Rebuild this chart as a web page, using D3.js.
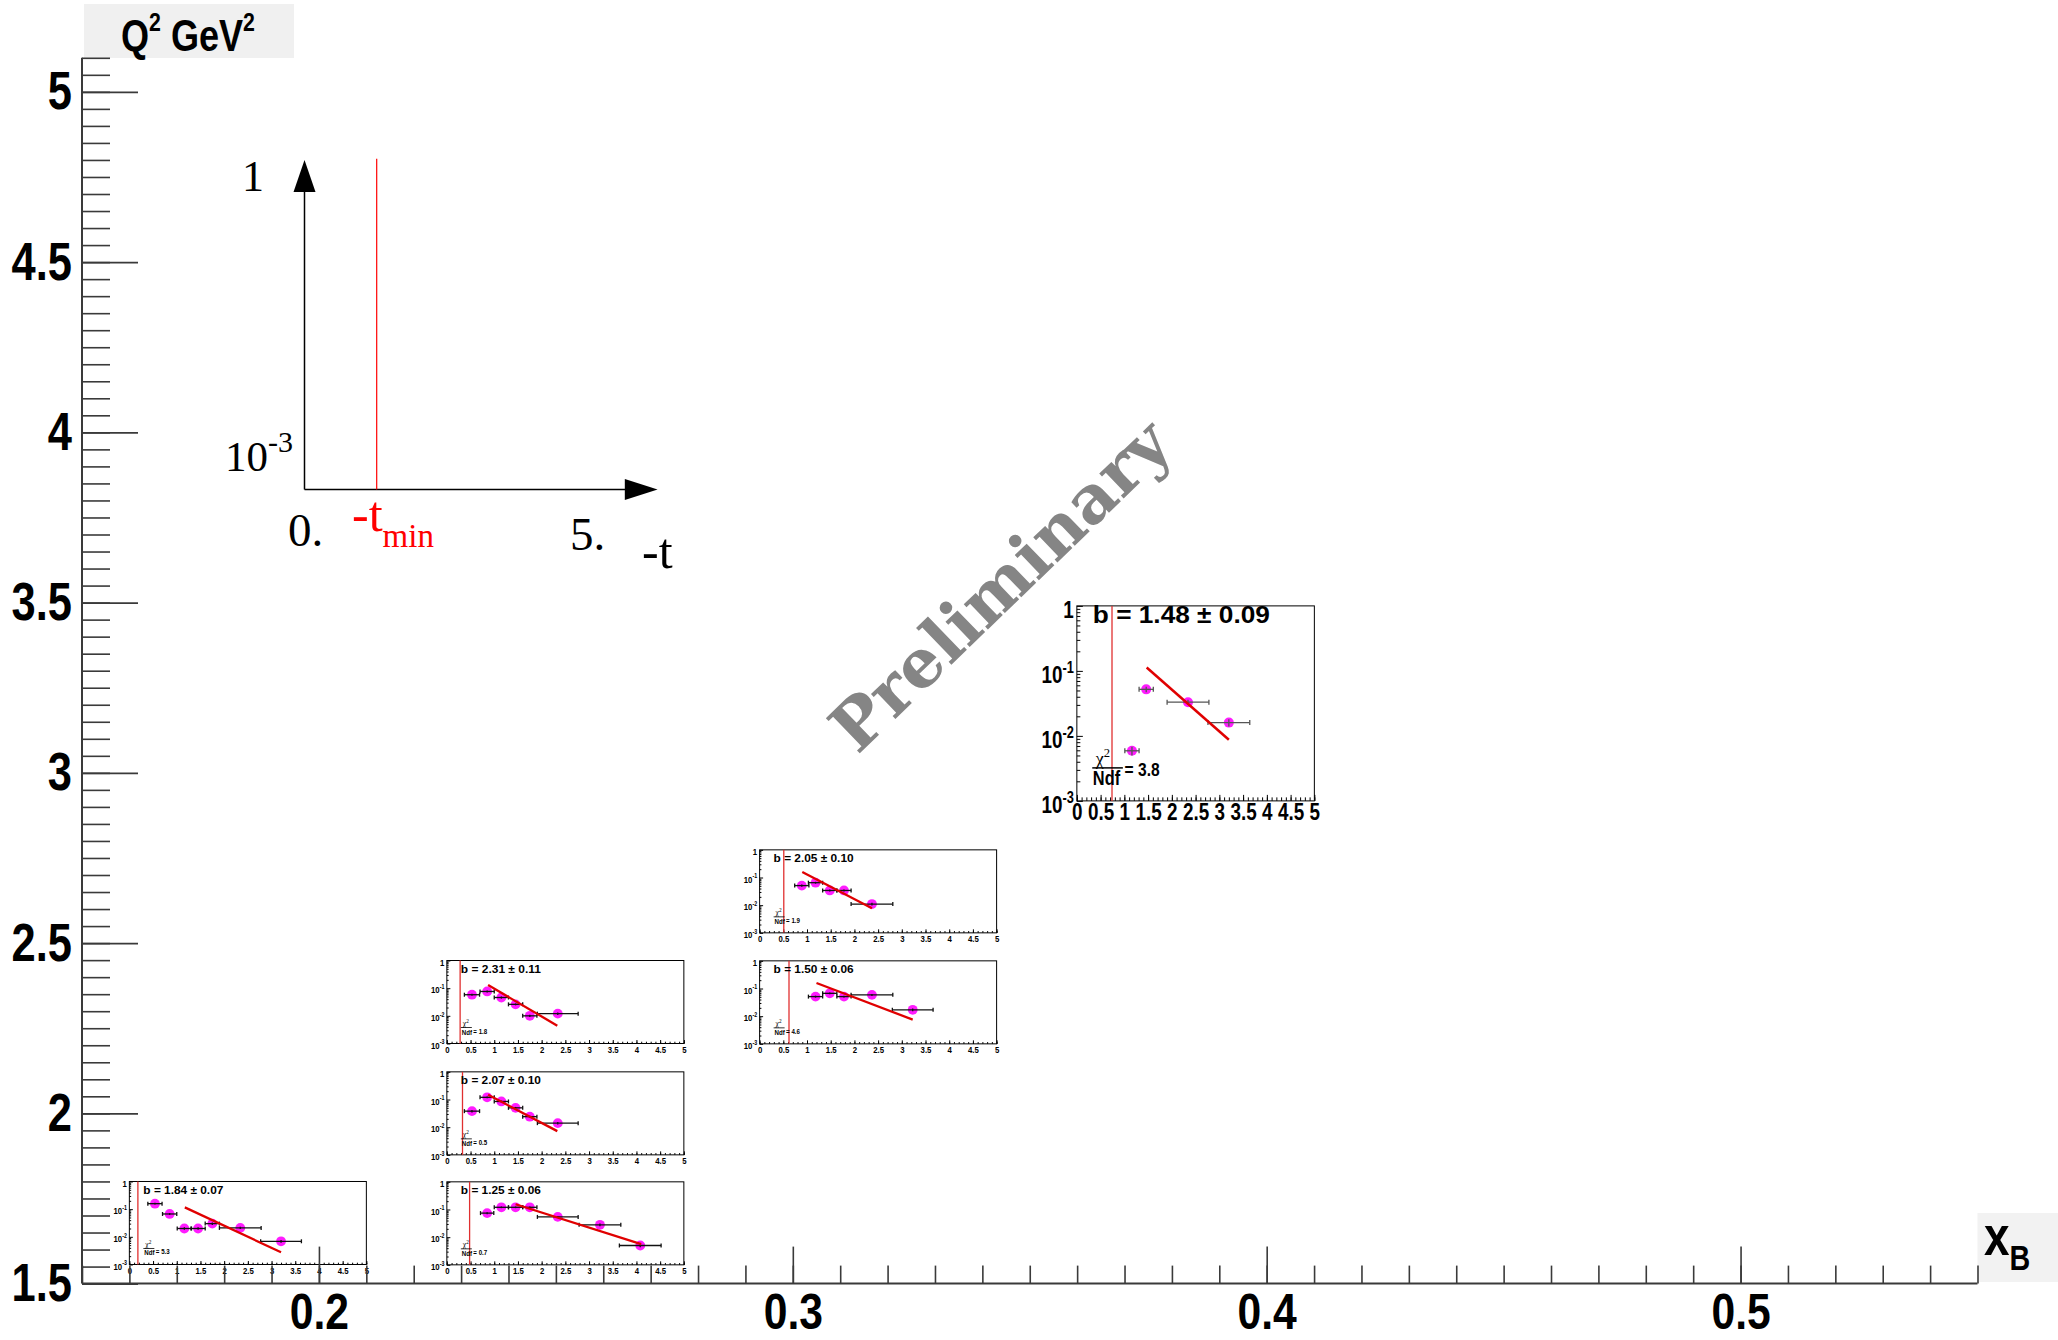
<!DOCTYPE html>
<html>
<head>
<meta charset="utf-8">
<title>t-slope b in (xB, Q2) bins</title>
<script src="https://cdn.jsdelivr.net/npm/d3@7/dist/d3.min.js"></script>
<style>
  body { margin: 0; background: #fff; }
  svg { display: block; }
</style>
</head>
<body>
<div id="chart"></div>
<script>
// ---- data ----
const xbDomain = [0.15, 0.55];
const q2Domain = [1.5, 5.1];
const xbTicks = [0.2, 0.3, 0.4, 0.5];
const q2Ticks = [1.5, 2, 2.5, 3, 3.5, 4, 4.5, 5];
const tTicks = [0, 0.5, 1, 1.5, 2, 2.5, 3, 3.5, 4, 4.5, 5];
const sigmaTicks = [0.001, 0.01, 0.1, 1];

// centres of the kinematic bins (xB, Q2), one small plot per bin
const binXB = [0.185, 0.252, 0.252, 0.252, 0.318, 0.318, 0.385];
const binQ2 = [1.678, 1.677, 2.000, 2.327, 2.326, 2.652, 3.204];

// fit results
const slopeB = [1.84, 1.25, 2.07, 2.31, 1.50, 2.05, 1.48];
const slopeErr = [0.07, 0.06, 0.10, 0.11, 0.06, 0.10, 0.09];
const chi2Ndf = [5.3, 0.7, 0.5, 1.8, 4.6, 1.9, 3.8];
const tMin = [0.18, 0.48, 0.33, 0.28, 0.62, 0.51, 0.74];
const fitFrom = [1.17, 1.45, 0.87, 0.87, 1.20, 0.90, 1.47];
const fitTo = [3.20, 4.10, 2.33, 2.33, 3.23, 2.37, 3.20];
const fitStart = [0.116, 0.155, 0.148, 0.129, 0.158, 0.158, 0.113]; // fit value at fitFrom

// measured points: -t, its bin half width, cross section and its error
const tVals = [
  [0.54, 0.85, 1.16, 1.45, 1.75, 2.34, 3.20],
  [0.85, 1.15, 1.45, 1.75, 2.34, 3.23, 4.08],
  [0.53, 0.85, 1.15, 1.45, 1.75, 2.34],
  [0.53, 0.85, 1.15, 1.45, 1.75, 2.34],
  [1.18, 1.48, 1.78, 2.37, 3.23],
  [0.89, 1.18, 1.48, 1.78, 2.37],
  [1.16, 1.46, 2.34, 3.20]
];
const tErrs = [
  [0.15, 0.15, 0.15, 0.15, 0.15, 0.44, 0.43],
  [0.14, 0.15, 0.15, 0.15, 0.43, 0.44, 0.44],
  [0.16, 0.15, 0.15, 0.15, 0.15, 0.43],
  [0.16, 0.15, 0.15, 0.15, 0.15, 0.43],
  [0.15, 0.15, 0.15, 0.44, 0.43],
  [0.15, 0.15, 0.15, 0.15, 0.44],
  [0.15, 0.15, 0.44, 0.44]
];
const xsVals = [
  [0.158, 0.067, 0.020, 0.020, 0.030, 0.021, 0.0069],
  [0.074, 0.12, 0.12, 0.12, 0.054, 0.028, 0.005],
  [0.038, 0.12, 0.085, 0.050, 0.024, 0.014],
  [0.058, 0.076, 0.046, 0.026, 0.010, 0.012],
  [0.051, 0.067, 0.051, 0.059, 0.017],
  [0.051, 0.065, 0.034, 0.034, 0.011],
  [0.0059, 0.052, 0.033, 0.016]
];
const xsErrs = [
  [0.012, 0.005, 0.002, 0.002, 0.003, 0.002, 0.0008],
  [0.006, 0.008, 0.008, 0.008, 0.004, 0.003, 0.0007],
  [0.004, 0.009, 0.006, 0.004, 0.002, 0.0015],
  [0.005, 0.006, 0.004, 0.002, 0.001, 0.0012],
  [0.004, 0.005, 0.004, 0.005, 0.002],
  [0.005, 0.005, 0.003, 0.003, 0.0012],
  [0.0009, 0.005, 0.003, 0.002]
];
const bigPad = 6; // the last bin is drawn taller

// ---- layout ----
const W = 2058, H = 1340;
const SANS = "'Liberation Sans', Arial, Helvetica, sans-serif";
const SERIF = "'Liberation Serif', 'Times New Roman', serif";
const NARROW = 0.82; // helvetica-narrow look

const svg = d3.select("#chart").append("svg")
    .attr("width", W).attr("height", H)
    .attr("viewBox", `0 0 ${W} ${H}`);

const x = d3.scaleLinear().domain(xbDomain).range([82, 1977.5]);
const y = d3.scaleLinear().domain(q2Domain).range([1283.6, 57.8]);

// axis title boxes
svg.append("rect").attr("x", 84).attr("y", 4).attr("width", 210).attr("height", 54).attr("fill", "#f0f0f0");
const qt = svg.append("g").attr("transform", "translate(121,51)")
  .append("text").attr("transform", `scale(${NARROW},1)`)
  .attr("font-family", SANS).attr("font-weight", "bold").attr("font-size", 44);
qt.append("tspan").text("Q");
qt.append("tspan").attr("dy", -20).attr("font-size", 26).text("2");
qt.append("tspan").attr("dy", 20).text(" GeV");
qt.append("tspan").attr("dy", -20).attr("font-size", 26).text("2");

svg.append("rect").attr("x", 1977.5).attr("y", 1213).attr("width", 81).attr("height", 69).attr("fill", "#f2f2f2");
const xt = svg.append("g").attr("transform", "translate(1984,1255)")
  .append("text").attr("transform", `scale(${NARROW},1)`)
  .attr("font-family", SANS).attr("font-weight", "bold").attr("font-size", 56);
xt.append("tspan").text("x");
xt.append("tspan").attr("dy", 15).attr("font-size", 35).text("B");

// ---- key: how to read a small plot ----
const key = svg.append("g");
key.append("line").attr("x1", 304.5).attr("y1", 489.6).attr("x2", 304.5).attr("y2", 185)
  .attr("stroke", "#000").attr("stroke-width", 1.5);
key.append("path").attr("d", "M304.5,160 L293.5,192 L315.5,192 Z").attr("fill", "#000");
key.append("line").attr("x1", 304.5).attr("y1", 489.6).attr("x2", 630).attr("y2", 489.6)
  .attr("stroke", "#000").attr("stroke-width", 1.5);
key.append("path").attr("d", "M657.6,489.6 L624.8,479 L624.8,500 Z").attr("fill", "#000");
key.append("line").attr("x1", 376.7).attr("y1", 158.8).attr("x2", 376.7).attr("y2", 489.6)
  .attr("stroke", "#ff0000").attr("stroke-width", 1.2);

function keyText(px, py, size, color, anchor) {
  return key.append("text").attr("x", px).attr("y", py)
    .attr("font-family", SERIF).attr("font-size", size).attr("fill", color)
    .attr("text-anchor", anchor || "start");
}
keyText(264, 191, 44, "#000", "end").text("1");
const k3 = keyText(225, 471, 43, "#000");
k3.append("tspan").text("10");
k3.append("tspan").attr("dy", -19).attr("font-size", 30).text("-3");
keyText(288, 546, 47, "#000").text("0.");
const ktm = keyText(352, 531, 50, "#ff0000");
ktm.append("tspan").text("-t");
ktm.append("tspan").attr("dy", 16).attr("font-size", 33).text("min");
keyText(570, 550, 47, "#000").text("5.");
keyText(642, 568, 50, "#000").text("-t");

// ---- watermark ----
svg.append("g").attr("transform", "translate(1001,586) rotate(-44)")
  .append("text")
  .attr("text-anchor", "middle").attr("dy", "0.33em")
  .attr("font-family", "'DejaVu Serif', serif").attr("font-weight", "bold")
  .attr("font-size", 67).attr("fill", "#858585")
  .text("Preliminary");

// ---- small plots ----
const small = {
  w: 237, h: 83, major: 3.5, minor: 1.8, lab: 9.5, labPad: 2.5,
  bFont: 11, bLen: 80, bX: 14, bY: 12.5, r: 4.9, cap: 2, err: "#111", fitW: 2.3,
  chiX: 16, chiY: -17.5, chiFont: 7.5, barX0: 14, barX1: 25, barY: -16,
  ndfX: 15, ndfY: -9, ndfFont: 7.5, eqX: 26.5, eqY: -10, eqFont: 7.5
};
const big = {
  w: 237.5, h: 195, major: 6, minor: 3.5, lab: 23, labPad: 3,
  bFont: 23, bLen: 177, bX: 16, bY: 17, r: 5, cap: 2.5, err: "#555", fitW: 2.5,
  chiX: 19, chiY: -35.7, chiFont: 18, barX0: 15.4, barX1: 46, barY: -33,
  ndfX: 16, ndfY: -15.7, ndfFont: 20, eqX: 47.7, eqY: -24.7, eqFont: 19
};

const logMinor = [];
for (let e = -3; e < 0; e++) for (let m = 2; m < 10; m++) logMinor.push(m * Math.pow(10, e));

function styleAxis(g) {
  g.select(".domain").remove();
  g.selectAll("line").attr("stroke", "#000").attr("stroke-width", 1);
}

function drawPad(i) {
  const st = i === bigPad ? big : small;
  const left = x(binXB[i]) - st.w / 2, top = y(binQ2[i]) - st.h / 2;
  const g = svg.append("g").attr("transform", `translate(${left},${top})`);
  const px = d3.scaleLinear().domain([0, 5]).range([0, st.w]);
  const py = d3.scaleLog().domain([1e-3, 1]).range([st.h, 0]);

  // -t axis
  g.append("g").attr("transform", `translate(0,${st.h})`)
    .call(d3.axisBottom(px).tickValues(d3.range(0, 51).map(k => k / 10)).tickSize(-st.minor).tickFormat(""))
    .call(styleAxis);
  const xa = g.append("g").attr("transform", `translate(0,${st.h})`)
    .call(d3.axisBottom(px).tickValues(tTicks).tickSize(-st.major).tickPadding(st.labPad).tickFormat(d => String(d)))
    .call(styleAxis);
  xa.selectAll("text").attr("font-family", SANS).attr("font-weight", "bold")
    .attr("font-size", st.lab).attr("fill", "#000").attr("transform", `scale(${NARROW},1)`);

  // log axis
  g.append("g")
    .call(d3.axisLeft(py).tickValues(logMinor).tickSize(-st.minor).tickFormat(""))
    .call(styleAxis);
  const ya = g.append("g")
    .call(d3.axisLeft(py).tickValues(sigmaTicks).tickSize(-st.major).tickPadding(st.labPad / NARROW).tickFormat(""))
    .call(styleAxis);
  ya.selectAll("text")
    .attr("font-family", SANS).attr("font-weight", "bold").attr("font-size", st.lab)
    .attr("fill", "#000").attr("dy", "0.5em").attr("transform", `scale(${NARROW},1)`)
    .each(function(d) {
      const t = d3.select(this);
      if (d === 1) { t.append("tspan").text("1"); return; }
      t.append("tspan").text("10");
      t.append("tspan").attr("dy", -0.45 * st.lab).attr("font-size", st.lab * 0.68)
        .text(String(Math.round(Math.log10(d))));
    });

  // frame
  g.append("rect").attr("width", st.w).attr("height", st.h)
    .attr("fill", "none").attr("stroke", "#000").attr("stroke-width", 1);

  // -t min
  g.append("line").attr("x1", px(tMin[i])).attr("x2", px(tMin[i]))
    .attr("y1", 0).attr("y2", st.h).attr("stroke", "#e03030").attr("stroke-width", 1.3);

  // points
  const pts = tVals[i].map((t, k) => ({ t, te: tErrs[i][k], v: xsVals[i][k], ve: xsErrs[i][k] }));
  g.append("g").selectAll("circle").data(pts).join("circle")
    .attr("cx", d => px(d.t)).attr("cy", d => py(d.v)).attr("r", st.r)
    .attr("fill", "#ff1cff");
  const eb = g.append("g").attr("stroke", st.err).attr("stroke-width", 1.3);
  eb.selectAll(".h").data(pts).join("line")
    .attr("x1", d => px(d.t - d.te)).attr("x2", d => px(d.t + d.te))
    .attr("y1", d => py(d.v)).attr("y2", d => py(d.v));
  eb.selectAll(".cl").data(pts).join("line")
    .attr("x1", d => px(d.t - d.te)).attr("x2", d => px(d.t - d.te))
    .attr("y1", d => py(d.v) - st.cap).attr("y2", d => py(d.v) + st.cap);
  eb.selectAll(".cr").data(pts).join("line")
    .attr("x1", d => px(d.t + d.te)).attr("x2", d => px(d.t + d.te))
    .attr("y1", d => py(d.v) - st.cap).attr("y2", d => py(d.v) + st.cap);
  eb.selectAll(".v").data(pts).join("line")
    .attr("x1", d => px(d.t)).attr("x2", d => px(d.t))
    .attr("y1", d => py(d.v - d.ve)).attr("y2", d => py(d.v + d.ve));

  // exponential fit, a straight line on the log axis
  const fit = [fitFrom[i], fitTo[i]].map(t => [t, fitStart[i] * Math.exp(-slopeB[i] * (t - fitFrom[i]))]);
  g.append("path").datum(fit)
    .attr("d", d3.line().x(d => px(d[0])).y(d => py(d[1])))
    .attr("fill", "none").attr("stroke", "#e00000").attr("stroke-width", st.fitW);

  // slope text
  g.append("text").attr("x", st.bX).attr("y", st.bY)
    .attr("font-family", SANS).attr("font-weight", "bold").attr("font-size", st.bFont)
    .attr("textLength", st.bLen).attr("lengthAdjust", "spacingAndGlyphs")
    .text(`b = ${slopeB[i].toFixed(2)} \u00b1 ${slopeErr[i].toFixed(2)}`);

  // chi2 / ndf
  const chi = g.append("text").attr("x", st.chiX).attr("y", st.h + st.chiY)
    .attr("font-family", SERIF).attr("font-size", st.chiFont);
  chi.append("tspan").text("\u03c7");
  chi.append("tspan").attr("dy", -st.chiFont * 0.45).attr("font-size", st.chiFont * 0.7).text("2");
  g.append("line").attr("x1", st.barX0).attr("x2", st.barX1)
    .attr("y1", st.h + st.barY).attr("y2", st.h + st.barY)
    .attr("stroke", "#000").attr("stroke-width", i === bigPad ? 1.5 : 0.8);
  g.append("g").attr("transform", `translate(${st.ndfX},${st.h + st.ndfY})`)
    .append("text").attr("transform", `scale(${NARROW},1)`)
    .attr("font-family", SANS).attr("font-weight", "bold").attr("font-size", st.ndfFont).text("Ndf");
  g.append("g").attr("transform", `translate(${st.eqX},${st.h + st.eqY})`)
    .append("text").attr("transform", `scale(${NARROW},1)`)
    .attr("font-family", SANS).attr("font-weight", "bold").attr("font-size", st.eqFont)
    .text(`= ${chi2Ndf[i].toFixed(1)}`);
}

binXB.forEach((_, i) => drawPad(i));

// ---- main axes (drawn last, ROOT paints them over the pads) ----
function mainStyle(g) {
  g.select(".domain").remove();
  g.selectAll("line").attr("stroke", "#3a3a3a").attr("stroke-width", 1.6);
}
const xMinor = d3.range(0, 41).map(k => +(0.15 + k * 0.01).toFixed(2));
const yMinor = d3.range(0, 73).map(k => +(1.5 + k * 0.05).toFixed(2));

svg.append("g").attr("transform", `translate(0,${y(1.5)})`)
  .call(d3.axisBottom(x).tickValues(xMinor).tickSize(-18).tickFormat(""))
  .call(mainStyle);
const xAxis = svg.append("g").attr("transform", `translate(0,${y(1.5)})`)
  .call(d3.axisBottom(x).tickValues(xbTicks).tickSize(-37).tickPadding(10).tickFormat(d3.format(".1f")))
  .call(mainStyle);
xAxis.selectAll("text").attr("font-family", SANS).attr("font-weight", "bold")
  .attr("font-size", 50).attr("fill", "#000").attr("transform", `scale(${NARROW * 1.04},1)`);

svg.append("g").attr("transform", `translate(${x(0.15)},0)`)
  .call(d3.axisLeft(y).tickValues(yMinor).tickSize(-28).tickFormat(""))
  .call(mainStyle);
const yAxis = svg.append("g").attr("transform", `translate(${x(0.15)},0)`)
  .call(d3.axisLeft(y).tickValues(q2Ticks).tickSize(-56).tickPadding(10 / NARROW).tickFormat(d3.format("~g")))
  .call(mainStyle);
yAxis.selectAll("text").attr("font-family", SANS).attr("font-weight", "bold")
  .attr("font-size", 53).attr("fill", "#000").attr("transform", `scale(${NARROW},1)`);

svg.append("line").attr("x1", x(0.15)).attr("x2", x(0.55)).attr("y1", y(1.5)).attr("y2", y(1.5))
  .attr("stroke", "#3a3a3a").attr("stroke-width", 2);
svg.append("line").attr("x1", x(0.15)).attr("x2", x(0.15)).attr("y1", y(1.5)).attr("y2", y(5.1))
  .attr("stroke", "#3a3a3a").attr("stroke-width", 2);
</script>
</body>
</html>
